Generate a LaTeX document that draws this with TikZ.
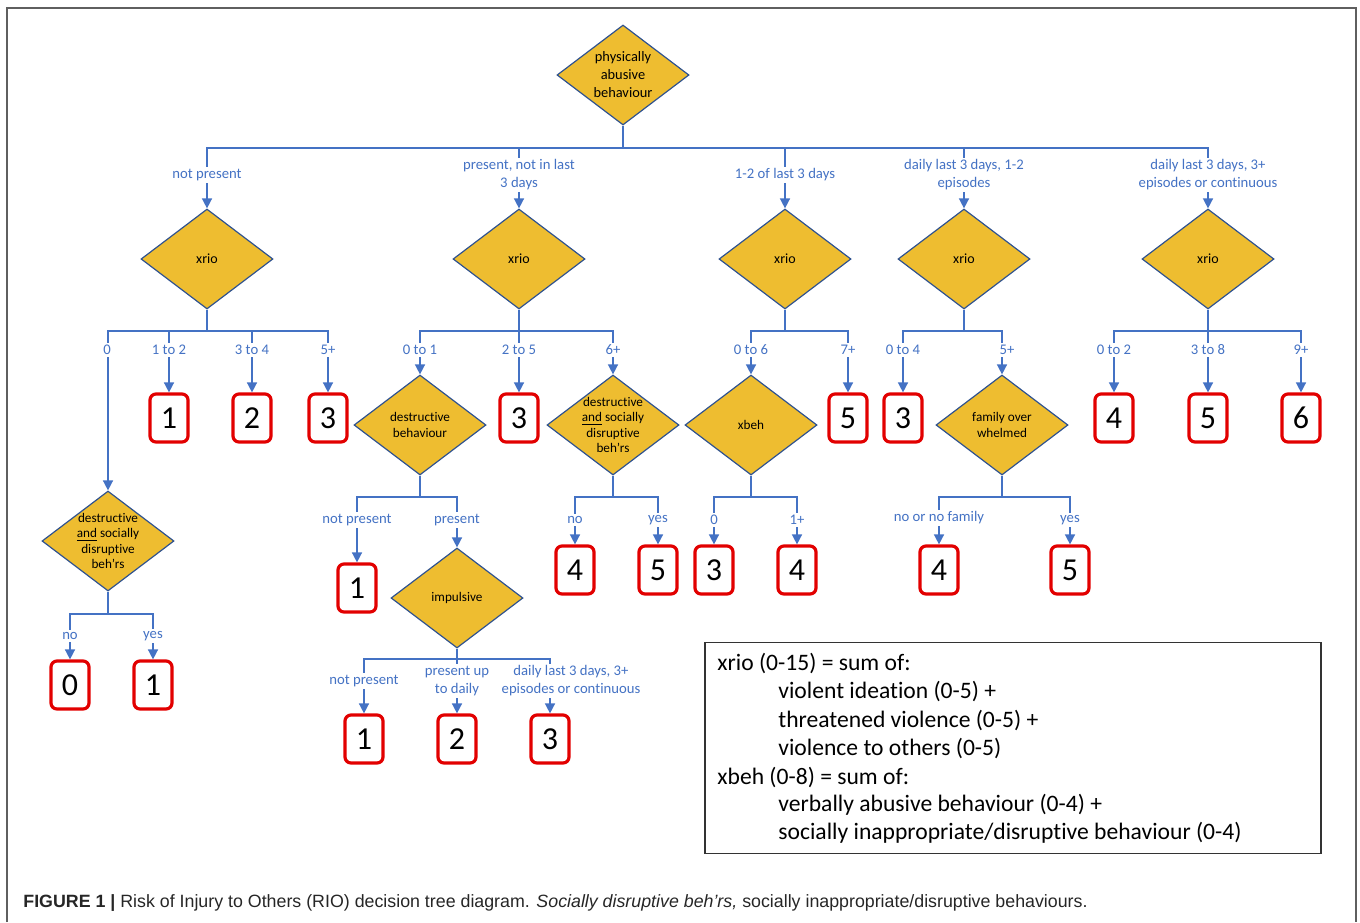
\documentclass[tikz,border=0pt]{standalone}
\usepackage{fontspec}
\setmainfont{Carlito}[Ligatures=NoCommon]
\newfontfamily\capfont{Liberation Sans}
\usetikzlibrary{shapes.geometric,arrows.meta}
\definecolor{linkblue}{RGB}{68,114,196}
\definecolor{decgold}{RGB}{238,189,48}
\definecolor{decedge}{RGB}{47,82,143}
\definecolor{scorered}{RGB}{226,0,0}
\definecolor{framegray}{RGB}{95,95,95}

\begin{document}
\begin{tikzpicture}[x=0.5pt, y=-0.5pt,
  decision/.style={diamond, draw=decedge, line width=0.6pt, fill=decgold,
    minimum width=66pt, minimum height=50pt, inner sep=0pt},
  dtext/.style={align=center, text=black, font=\fontsize{6.6}{7.8}\selectfont},
  score/.style={draw=scorered, line width=1.6pt, rounded corners=3pt, fill=white,
    minimum width=19pt, minimum height=24pt, inner sep=0pt,
    font=\fontsize{16}{16}\selectfont},
  branch/.style={linkblue, line width=0.75pt},
  arrow/.style={branch, -{Triangle[width=5pt,length=5pt]}},
  cond/.style={text=linkblue, fill=white, align=center, inner sep=1pt,
    font=\fontsize{7.35}{9}\selectfont},
  keyline/.style={anchor=west, inner sep=0pt, font=\fontsize{11.8}{14}\selectfont}]

\useasboundingbox (0,0) rectangle (1360,922);

% Outer frame (open at the bottom)
\draw[framegray, line width=1pt] (7,922) -- (7,8) -- (1356,8) -- (1356,922);

% Root question
\node[decision, label={[dtext, font=\fontsize{7.2}{9}\selectfont]center:{physically\\abusive\\behaviour}}] (pab) at (623,75) {};

% xrio questions, one per frequency of physical abuse
\node[decision, label={[dtext, font=\fontsize{7}{8}\selectfont]center:xrio}] (xrio1) at (207,259) {};
\node[decision, label={[dtext, font=\fontsize{7}{8}\selectfont]center:xrio}] (xrio2) at (519,259) {};
\node[decision, label={[dtext, font=\fontsize{7}{8}\selectfont]center:xrio}] (xrio3) at (785,259) {};
\node[decision, label={[dtext, font=\fontsize{7}{8}\selectfont]center:xrio}] (xrio4) at (964,259) {};
\node[decision, label={[dtext, font=\fontsize{7}{8}\selectfont]center:xrio}] (xrio5) at (1208,259) {};

% Branch: not present
\node[score] (r11) at (169,418) {1};
\node[score] (r12) at (252,418) {2};
\node[score] (r13) at (328,418) {3};
\node[decision, label={[dtext]center:{destructive\\\underline{and} socially\\disruptive\\beh’rs}}] (dsb1) at (108,541) {};
\node[score] (r14) at (70,685) {0};
\node[score] (r15) at (153,685) {1};

% Branch: present, not in last 3 days
\node[decision, label={[dtext]center:{destructive\\behaviour}}] (dest) at (420,425) {};
\node[score] (r21) at (519,418) {3};
\node[decision, label={[dtext]center:{destructive\\\underline{and} socially\\disruptive\\beh’rs}}] (dsb2) at (613,425) {};
\node[score] (r22) at (357,588) {1};
\node[decision, label={[dtext]center:impulsive}] (imp) at (457,598) {};
\node[score] (r23) at (364,739) {1};
\node[score] (r24) at (457,739) {2};
\node[score] (r25) at (550,739) {3};
\node[score] (r26) at (575,570) {4};
\node[score] (r27) at (658,570) {5};

% Branch: 1-2 of last 3 days
\node[decision, label={[dtext]center:xbeh}] (xbeh) at (751,425) {};
\node[score] (r31) at (848,418) {5};
\node[score] (r32) at (714,570) {3};
\node[score] (r33) at (797,570) {4};

% Branch: daily, 1-2 episodes
\node[score] (r41) at (903,418) {3};
\node[decision, label={[dtext]center:{family over\\whelmed}}] (fam) at (1002,425) {};
\node[score] (r42) at (939,570) {4};
\node[score] (r43) at (1070,570) {5};

% Branch: daily, 3+ episodes or continuous
\node[score] (r51) at (1114,418) {4};
\node[score] (r52) at (1208,418) {5};
\node[score] (r53) at (1301,418) {6};

% Bus points under each question
\coordinate (pab-bus) at (623,148);
\coordinate (xrio1-bus) at (207,331);
\coordinate (xrio2-bus) at (519,331);
\coordinate (xrio3-bus) at (785,331);
\coordinate (xrio4-bus) at (964,331);
\coordinate (xrio5-bus) at (1208,331);
\coordinate (dsb1-bus) at (108,614);
\coordinate (dest-bus) at (420,497);
\coordinate (imp-bus) at (457,659);
\coordinate (dsb2-bus) at (613,497);
\coordinate (xbeh-bus) at (751,497);
\coordinate (fam-bus) at (1002,497);

% Connectors
\draw[branch] (pab) -- (pab-bus);
\draw[arrow] (pab-bus) -| (xrio1);
\draw[arrow] (pab-bus) -| (xrio2);
\draw[arrow] (pab-bus) -| (xrio3);
\draw[arrow] (pab-bus) -| (xrio4);
\draw[arrow] (pab-bus) -| (xrio5);

\draw[branch] (xrio1) -- (xrio1-bus);
\draw[arrow] (xrio1-bus) -| (dsb1);
\draw[arrow] (xrio1-bus) -| (r11);
\draw[arrow] (xrio1-bus) -| (r12);
\draw[arrow] (xrio1-bus) -| (r13);
\draw[branch] (dsb1) -- (dsb1-bus);
\draw[arrow] (dsb1-bus) -| (r14);
\draw[arrow] (dsb1-bus) -| (r15);

\draw[branch] (xrio2) -- (xrio2-bus);
\draw[arrow] (xrio2-bus) -| (dest);
\draw[arrow] (xrio2-bus) -| (r21);
\draw[arrow] (xrio2-bus) -| (dsb2);
\draw[branch] (dest) -- (dest-bus);
\draw[arrow] (dest-bus) -| (r22);
\draw[arrow] (dest-bus) -| (imp);
\draw[branch] (imp) -- (imp-bus);
\draw[arrow] (imp-bus) -| (r23);
\draw[arrow] (imp-bus) -| (r24);
\draw[arrow] (imp-bus) -| (r25);
\draw[branch] (dsb2) -- (dsb2-bus);
\draw[arrow] (dsb2-bus) -| (r26);
\draw[arrow] (dsb2-bus) -| (r27);

\draw[branch] (xrio3) -- (xrio3-bus);
\draw[arrow] (xrio3-bus) -| (xbeh);
\draw[arrow] (xrio3-bus) -| (r31);
\draw[branch] (xbeh) -- (xbeh-bus);
\draw[arrow] (xbeh-bus) -| (r32);
\draw[arrow] (xbeh-bus) -| (r33);

\draw[branch] (xrio4) -- (xrio4-bus);
\draw[arrow] (xrio4-bus) -| (r41);
\draw[arrow] (xrio4-bus) -| (fam);
\draw[branch] (fam) -- (fam-bus);
\draw[arrow] (fam-bus) -| (r42);
\draw[arrow] (fam-bus) -| (r43);

\draw[branch] (xrio5) -- (xrio5-bus);
\draw[arrow] (xrio5-bus) -| (r51);
\draw[arrow] (xrio5-bus) -| (r52);
\draw[arrow] (xrio5-bus) -| (r53);

% Condition labels (white ground cuts the line)
\node[cond] (c-pab1) at (207,175) {not present};
\node[cond] (c-pab2) at (519,175) {present, not in last\\3 days};
\node[cond] (c-pab3) at (785,175) {1-2 of last 3 days};
\node[cond] (c-pab4) at (964,175) {daily last 3 days, 1-2\\episodes};
\node[cond] (c-pab5) at (1208,175) {daily last 3 days, 3+\\episodes or continuous};

\node[cond] (c-x11) at (107,350) {0};
\node[cond] (c-x12) at (169,350) {1 to 2};
\node[cond] (c-x13) at (252,350) {3 to 4};
\node[cond] (c-x14) at (328,350) {5+};
\node[cond] (c-d11) at (70,636) {no};
\node[cond] (c-d12) at (153,636) {yes};

\node[cond] (c-x21) at (420,350) {0 to 1};
\node[cond] (c-x22) at (519,350) {2 to 5};
\node[cond] (c-x23) at (613,350) {6+};
\node[cond] (c-de1) at (357,520) {not present};
\node[cond] (c-de2) at (457,520) {present};
\node[cond] (c-im1) at (364,681) {not present};
\node[cond] (c-im2) at (457,681) {present up\\to daily};
\node[cond] (c-im3) at (571,681) {daily last 3 days, 3+\\episodes or continuous};
\node[cond] (c-d21) at (575,520) {no};
\node[cond] (c-d22) at (658,520) {yes};

\node[cond] (c-x31) at (751,350) {0 to 6};
\node[cond] (c-x32) at (848,350) {7+};
\node[cond] (c-xb1) at (714,520) {0};
\node[cond] (c-xb2) at (797,520) {1+};

\node[cond] (c-x41) at (903,350) {0 to 4};
\node[cond] (c-x42) at (1007,350) {5+};
\node[cond] (c-fa1) at (939,518) {no or no family};
\node[cond] (c-fa2) at (1070,520) {yes};

\node[cond] (c-x51) at (1114,350) {0 to 2};
\node[cond] (c-x52) at (1208,350) {3 to 8};
\node[cond] (c-x53) at (1301,350) {9+};

% Key to the scores
\node[draw=black!80, line width=0.7pt, minimum width=308pt, minimum height=105.5pt, inner sep=0pt] (key) at (1013,748) {};
\node[keyline] (k1) at (717,663) {xrio (0-15) = sum of:};
\node[keyline] (k2) at (778,691) {violent ideation (0-5) +};
\node[keyline] (k3) at (778,720) {threatened violence (0-5) +};
\node[keyline] (k4) at (778,748) {violence to others (0-5)};
\node[keyline] (k5) at (717,777) {xbeh (0-8) = sum of:};
\node[keyline] (k6) at (778,805) {verbally abusive behaviour (0-4) +};
\node[keyline] (k7) at (778,833) {socially inappropriate/disruptive behaviour (0-4)};

% Caption
\node[anchor=west, inner sep=0pt, text=black!85, font=\capfont\fontsize{8.9}{10}\selectfont] (caption) at (23,903) {\textbf{FIGURE 1 |} Risk of Injury to Others (RIO) decision tree diagram. \textit{Socially disruptive beh’rs,} socially inappropriate/disruptive behaviours.};

\end{tikzpicture}
\end{document}
